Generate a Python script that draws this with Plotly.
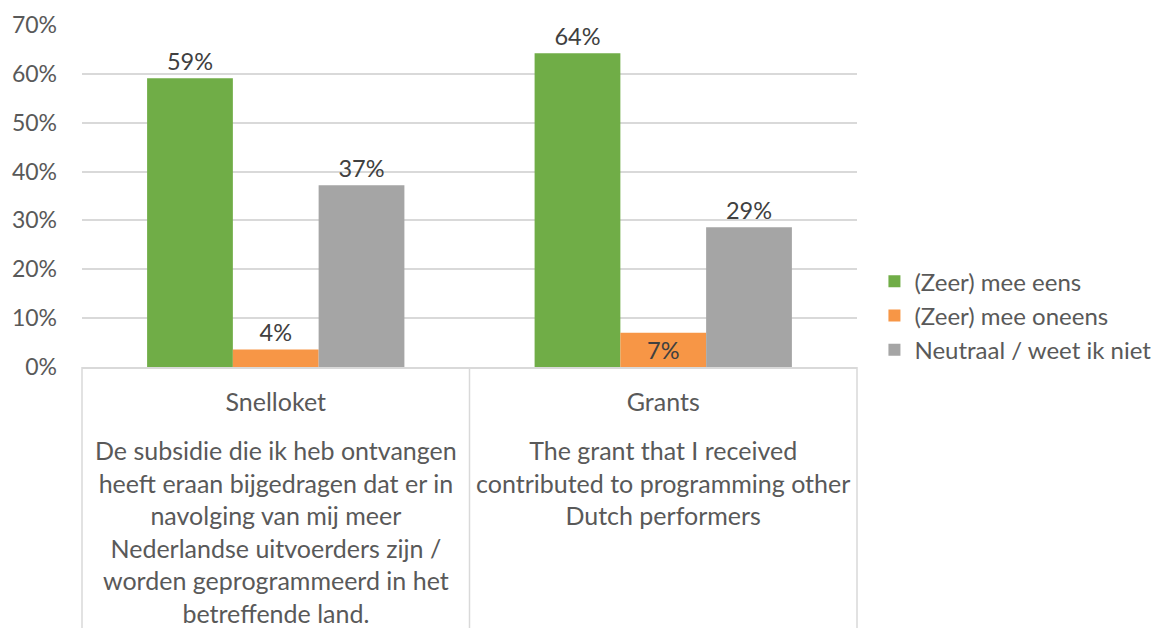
import plotly.graph_objects as go

categories = ["Snelloket", "Grants"]
descriptions = [
    "De subsidie die ik heb ontvangen<br>heeft eraan bijgedragen dat er in<br>navolging van mij meer<br>"
    "Nederlandse uitvoerders zijn /<br>worden geprogrammeerd in het<br>betreffende land.",
    "The grant that I received<br>contributed to programming other<br>Dutch performers",
]
series_names = ["(Zeer) mee eens", "(Zeer) mee oneens", "Neutraal / weet ik niet"]
agree = [59.1, 64.2]
disagree = [3.6, 7.0]
neutral = [37.2, 28.6]
colors = ["#70AD47", "#F79646", "#A5A5A5"]

FONT = "Lato, 'Open Sans', sans-serif"

fig = go.Figure()
for i, (name, vals) in enumerate(zip(series_names, [agree, disagree, neutral])):
    pos = "outside"
    if i == 1:
        pos = ["outside", "inside"]
    lbl = dict(size=23.5, color="#404040", family=FONT)
    fig.add_trace(
        go.Bar(
            x=categories,
            y=vals,
            name=name,
            marker=dict(color=colors[i], line=dict(width=0)),
            texttemplate="%{y:.0f}%",
            textposition=pos,
            insidetextanchor="middle",
            textfont=lbl,
            insidetextfont=lbl,
            outsidetextfont=lbl,
            cliponaxis=False,
            legendgroup=name,
        )
    )

# long question text under each category
for cat, desc in zip(categories, descriptions):
    fig.add_annotation(
        x=cat, xref="x", y=(342 - 408) / 342, yref="paper",
        text=desc, showarrow=False, yanchor="top", xanchor="center",
        align="center", font=dict(size=25, color="#595959", family=FONT),
    )

# category box lines
for xp in [0, 0.5, 1]:
    fig.add_shape(
        type="line", xref="paper", yref="paper", x0=xp, x1=xp, y0=0, y1=-0.8,
        line=dict(color="#D9D9D9", width=1.5),
    )

# the page body has an 8px margin, so margins are shifted by 8
fig.update_layout(
    width=1152,
    height=620,
    margin=dict(l=74, r=303, t=17, b=261, autoexpand=False),
    paper_bgcolor="white",
    plot_bgcolor="white",
    font=dict(family=FONT, color="#595959"),
    barmode="group",
    bargap=0.336,
    bargroupgap=0,
    showlegend=True,
    legend=dict(
        x=1.0225, xanchor="left", y=0.15, yanchor="middle",
        font=dict(size=24, color="#595959", family=FONT),
        traceorder="grouped", tracegroupgap=0,
    ),
)
fig.update_yaxes(
    range=[0, 70], dtick=10, ticksuffix="%",
    showgrid=True, gridcolor="#D9D9D9", gridwidth=1.5,
    zeroline=False, showline=False, automargin=False,
    tickfont=dict(size=23, color="#595959", family=FONT),
    ticklabelstandoff=24,
)
fig.update_xaxes(
    showline=True, linecolor="#D9D9D9", linewidth=1.5, automargin=False,
    tickfont=dict(size=25, color="#595959", family=FONT),
    ticks="", ticklabelstandoff=12,
)

fig.write_html("out.html")
